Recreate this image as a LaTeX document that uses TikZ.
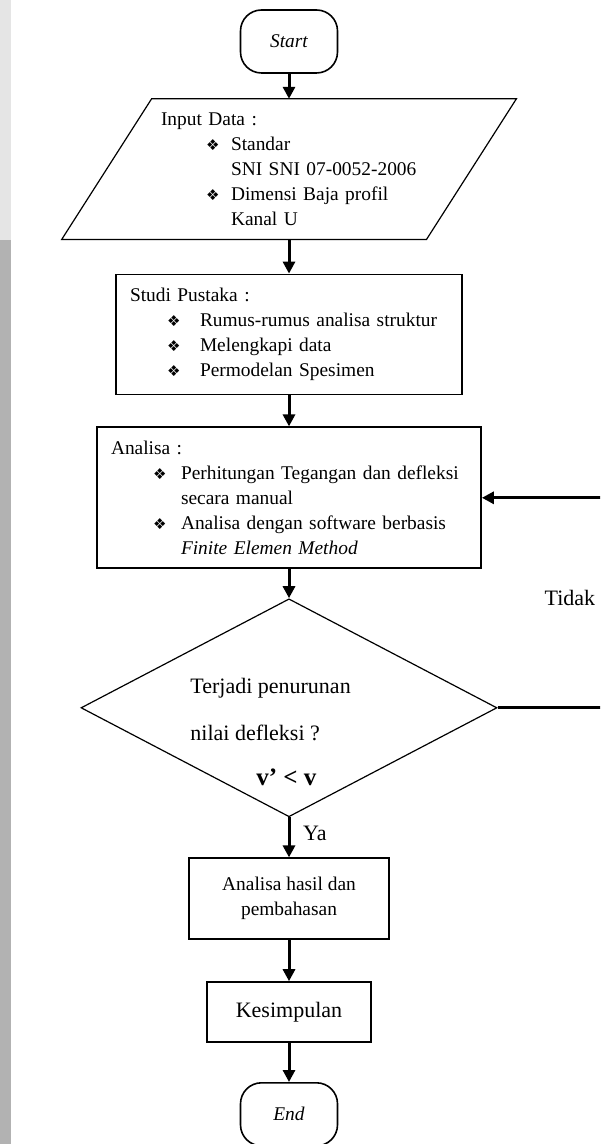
\documentclass[tikz,border=0pt]{standalone}
\usepackage{fontspec}
\setmainfont{Liberation Serif}
\newfontfamily\symfont{DejaVu Sans}
\usetikzlibrary{shapes,arrows.meta,positioning}

\newcommand{\bodyfont}{\fontsize{9.7}{12.5}\selectfont}
\newcommand{\bulsym}{{\symfont\fontsize{7.5}{7.5}\selectfont ❖}}
\newcommand{\itm}[2][21pt]{\hspace*{#1}\makebox[\dimexpr35pt-#1\relax][l]{\bulsym}#2}
\newcommand{\itmcont}[1]{\hspace*{35pt}#1}

\begin{document}
\begin{tikzpicture}[
    node distance=15pt,
    terminal/.style={rectangle, draw, line width=0.8pt, rounded corners=10.5pt, minimum width=48.5pt, minimum height=31.5pt, font=\bodyfont\itshape},
    io/.style={rectangle, minimum width=182pt, minimum height=70pt, inner xsep=27pt, inner ysep=2pt, text width=128pt, align=left, font=\bodyfont},
    process/.style={rectangle, draw, line width=0.9pt, inner xsep=7pt, inner ysep=2pt, align=left, font=\bodyfont},
    decision/.style={diamond, draw, line width=0.6pt, minimum width=208pt, minimum height=109pt, inner sep=0pt},
    flow/.style={-{Triangle[width=6pt,length=6pt]}, line width=1.5pt},
    answer/.style={font=\fontsize{11}{13}\selectfont}
]

% Page and left strip
\useasboundingbox (0,0) rectangle (300pt,-572pt);
\fill[white] (0,0) rectangle (300pt,-572pt);
\clip (0,0) rectangle (300pt,-572pt);
\fill[black!10] (0,0) rectangle (5.5pt,-120pt);
\fill[black!30] (0,-120pt) rectangle (5.5pt,-572pt);

% Start and input
\node[terminal] (start) at (144.5pt,-20.75pt) {Start};

\node[io, below=12.5pt of start] (input) {Input Data :\\
    \itm[22.5pt]{Standar}\\
    \itmcont{SNI SNI 07-0052-2006}\\
    \itm[22.5pt]{Dimensi Baja profil}\\
    \itmcont{Kanal U}};
\draw[line width=0.6pt] ([xshift=-22.5pt]input.south west) -- ([xshift=22.5pt]input.north west)
    -- ([xshift=22.5pt]input.north east) -- ([xshift=-22.5pt]input.south east) -- cycle;

% Process steps
\node[process, below=17pt of input, minimum height=60pt, text width=159pt] (studi) {Studi Pustaka :\\
    \itm[18.5pt]{Rumus-rumus analisa struktur}\\
    \itm[18.5pt]{Melengkapi data}\\
    \itm[18.5pt]{Permodelan Spesimen}};

\node[process, below=15.5pt of studi, minimum height=70.5pt, text width=178pt] (analisa) {Analisa :\\
    \itm{Perhitungan Tegangan dan defleksi}\\
    \itmcont{secara manual}\\
    \itm{Analisa dengan software berbasis}\\
    \itmcont{\textit{Finite Elemen Method}}};

% Decision
\node[decision, below=14.5pt of analisa] (cek) {};
\node[answer, align=left, anchor=north west, inner sep=0pt] (cek-text) at ([xshift=-49.5pt, yshift=15pt]cek.center) {Terjadi penurunan\\[10.5pt]
    nilai defleksi ?\\[9.5pt]
    \hspace*{33pt}{\fontsize{12.5}{13}\selectfont\bfseries v’ < v}};

% Result and end
\node[process, below=20pt of cek, minimum width=100pt, minimum height=40.5pt, align=center] (hasil) {Analisa hasil dan\\ pembahasan};
\node[process, below=20.5pt of hasil, minimum width=82pt, minimum height=30pt, font=\fontsize{11}{13}\selectfont] (kesimpulan) {Kesimpulan};
\node[terminal, below=19.5pt of kesimpulan] (stop) {End};

% Connectors
\draw[flow] (start) -- (input);
\draw[flow] (input) -- (studi);
\draw[flow] (studi) -- (analisa);
\draw[flow] (analisa) -- (cek);
\draw[flow] (cek) -- node[answer, right=3pt, yshift=2pt] (ya) {Ya} (hasil);
\draw[flow] (hasil) -- (kesimpulan);
\draw[flow] (kesimpulan) -- (stop);

% Loop back
\coordinate (loop) at ([xshift=60pt]cek.east);
\draw[flow] (cek.east) -- (loop) |- (analisa.east);
\node[answer, anchor=west] (tidak) at ([xshift=20pt, yshift=55pt]cek.east) {Tidak};

\end{tikzpicture}
\end{document}
